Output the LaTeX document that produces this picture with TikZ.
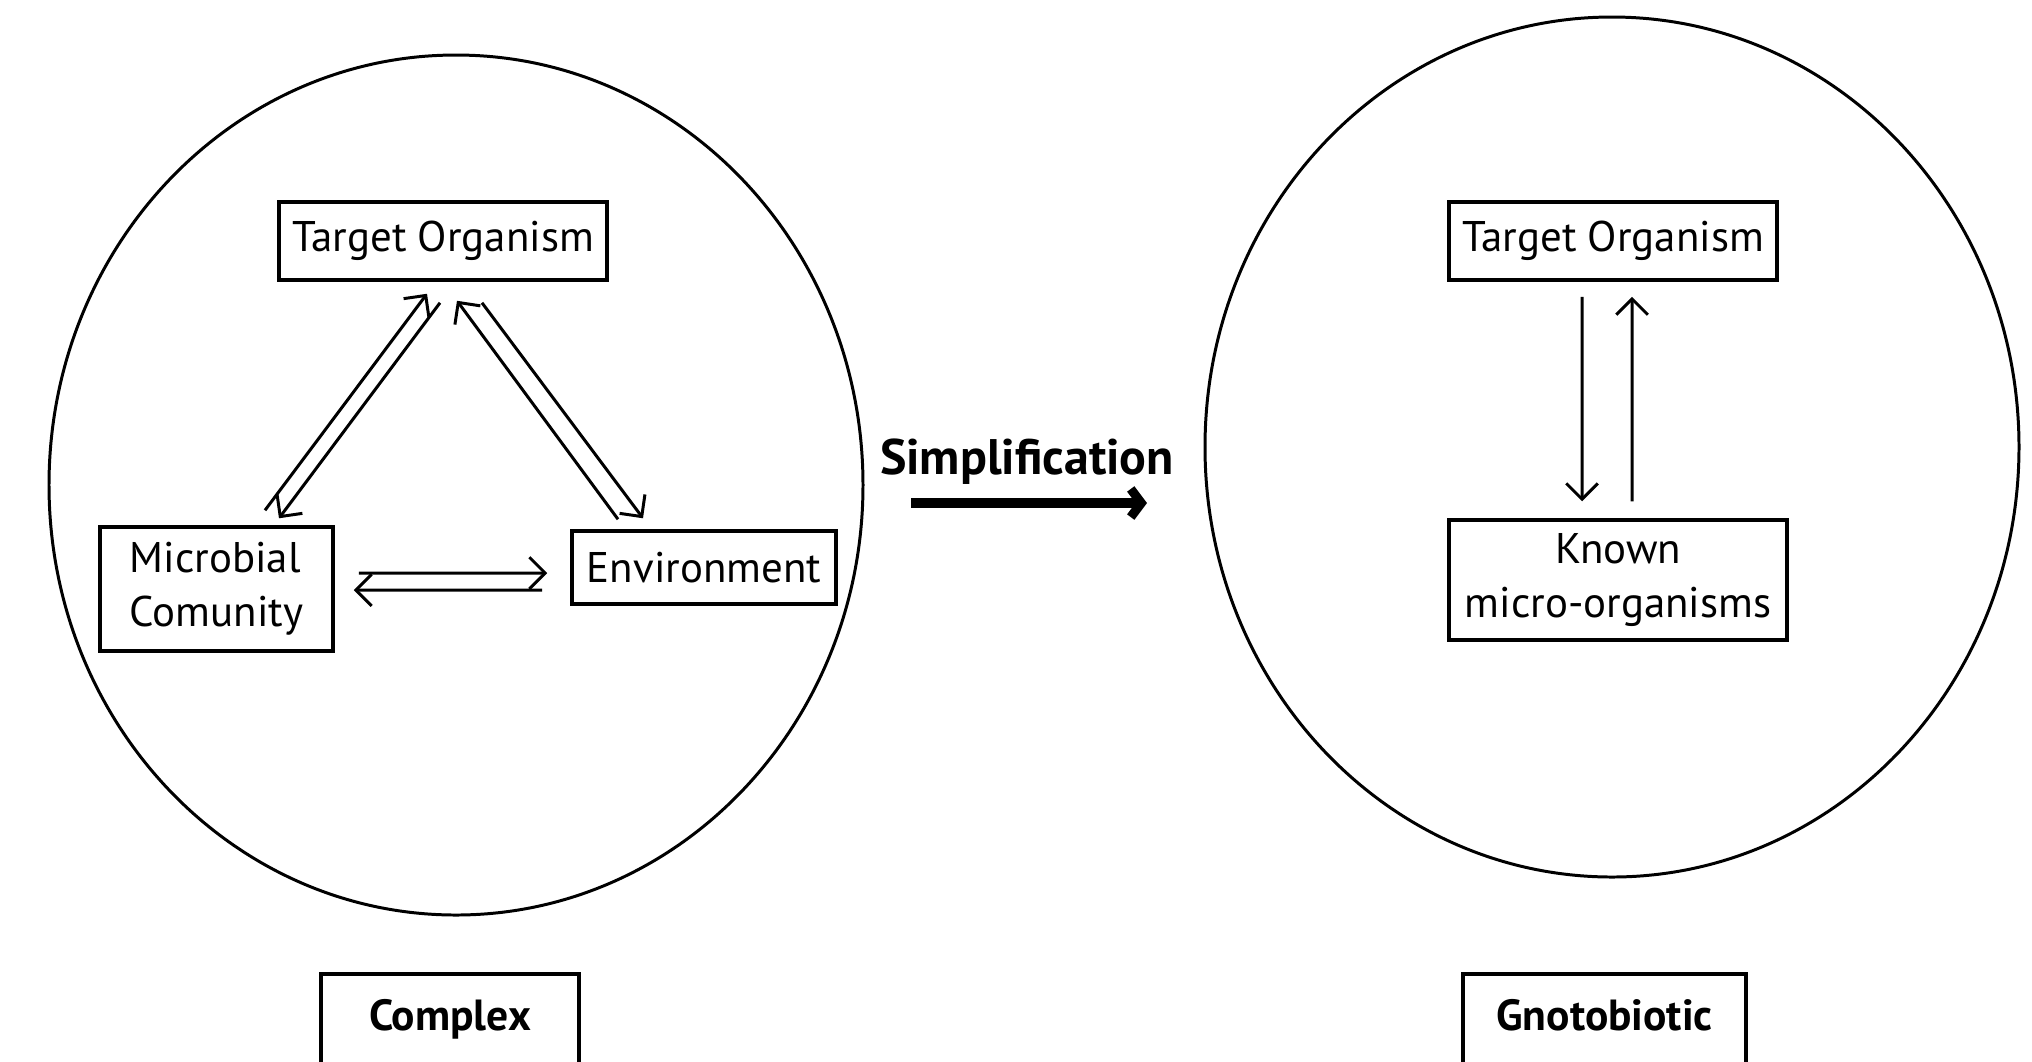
\documentclass[tikz,border=0pt]{standalone}
\usepackage{fontspec}
\setmainfont{PT Sans}
\usetikzlibrary{arrows.meta}
\tikzset{
  entity/.style={draw,line width=1pt,inner sep=0pt,font=\fontsize{12.2}{15}\selectfont},
  regime/.style={draw,line width=1.1pt,inner sep=0pt,font=\bfseries\fontsize{12.4}{15}\selectfont,anchor=base,text height=0.56cm,text depth=0.6cm},
  link/.style={line width=0.85pt,-{Straight Barb[length=4.5pt,width=9pt]}}
}
\begin{document}
\begin{tikzpicture}
\useasboundingbox (0,0) rectangle (20.32,-10.61);
\draw[line width=0.85pt] (4.56,-4.85) ellipse [x radius=4.07,y radius=4.30];
\draw[line width=0.85pt] (16.12,-4.47) ellipse [x radius=4.07,y radius=4.30];

\node (to1) [entity,minimum width=3.28cm,minimum height=0.78cm] at (4.43,-2.41) {Target Organism};
\node (mc) [entity,minimum width=2.33cm,minimum height=1.24cm,align=left,font=\fontsize{12.2}{15.3}\selectfont] at (2.165,-5.89) {Microbial\\Comunity};
\node (env) [entity,minimum width=2.64cm,minimum height=0.73cm] at (7.04,-5.675) {Environment};
\node (to2) [entity,minimum width=3.28cm,minimum height=0.78cm] at (16.13,-2.41) {Target Organism};
\node (known) [entity,minimum width=3.38cm,minimum height=1.20cm,align=center,font=\fontsize{12.2}{15.3}\selectfont] at (16.18,-5.80) {Known\\micro-organisms};

\draw[link] ([shift={(0.485,0.15)}]mc.north) -- ([shift={(-0.16,-0.12)}]to1.south);
\draw[link] ([shift={(-0.03,-0.21)}]to1.south) -- ([shift={(0.625,0.07)}]mc.north);
\draw[link] ([shift={(-0.86,0.10)}]env.north) -- ([shift={(0.14,-0.19)}]to1.south);
\draw[link] ([shift={(0.39,-0.21)}]to1.south) -- ([shift={(-0.61,0.11)}]env.north);
\draw[link] ([shift={(0.24,0.16)}]mc.east) -- ([shift={(-0.23,-0.055)}]env.west);
\draw[link] ([shift={(-0.28,-0.225)}]env.west) -- ([shift={(0.19,-0.01)}]mc.east);
\draw[link] ([shift={(-0.31,-0.15)}]to2.south) -- ([shift={(-0.36,0.17)}]known.north);
\draw[link] ([shift={(0.14,0.17)}]known.north) -- ([shift={(0.19,-0.15)}]to2.south);

\node (simp) [font=\bfseries\fontsize{14.2}{17}\selectfont,inner sep=0pt] at (10.27,-4.62) {Simplification};
\coordinate (s0) at (9.11,-5.03);
\coordinate (s1) at (11.47,-5.03);
\draw[line width=2.6pt,-{Straight Barb[length=3pt,width=8pt]}] (s0) -- (s1);

\node (complex) [regime,minimum width=2.58cm] at (4.50,-10.30) {Complex};
\node (gnoto) [regime,minimum width=2.83cm] at (16.045,-10.30) {Gnotobiotic};
\end{tikzpicture}
\end{document}
